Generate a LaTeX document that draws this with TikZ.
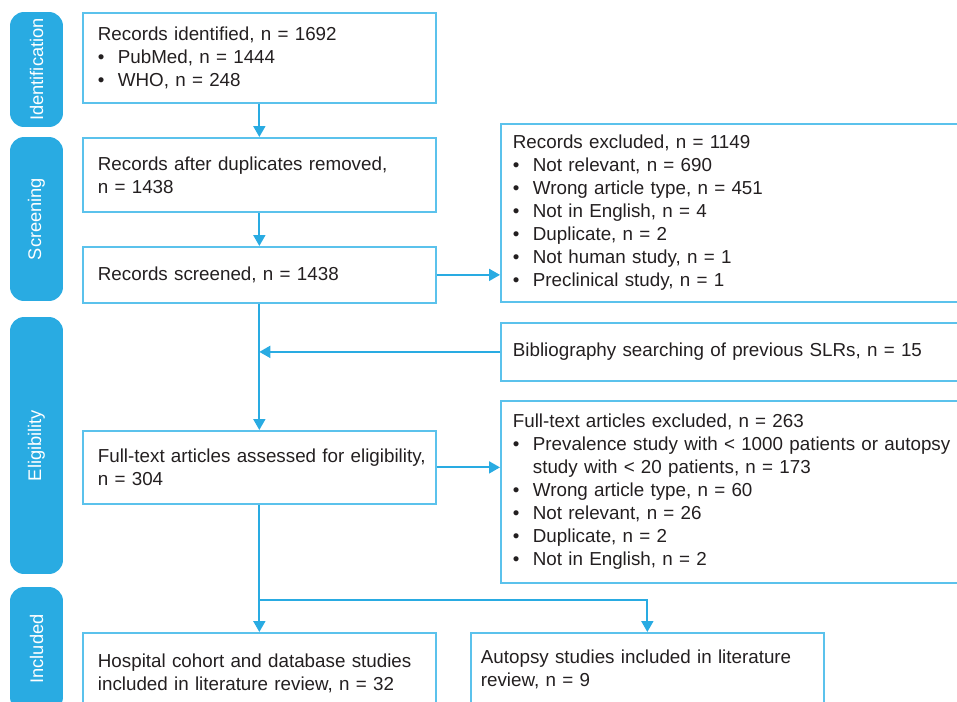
\documentclass[tikz,border=0pt]{standalone}
\usepackage{fontspec}
\setmainfont{Liberation Sans}
\usetikzlibrary{arrows.meta}

\definecolor{prismablue}{HTML}{29ABE2}
\definecolor{boxline}{HTML}{5BC2EC}
\definecolor{txtgray}{HTML}{231F20}

\newcommand{\bitem}{\makebox[0.4cm][l]{\textbullet}}

\begin{document}
\begin{tikzpicture}[x=0.02cm, y=-0.02cm,
    >={Triangle[width=0.24cm, length=0.22cm]},
    flow/.style={draw=prismablue, line width=1.1pt},
    phase/.style={fill=prismablue, rounded corners=0.28cm, rotate=90, minimum height=1.06cm,
        inner sep=0pt, text=white, font=\fontsize{10.4}{13}\selectfont},
    leftbox/.style={draw=boxline, line width=1pt, anchor=north west, minimum width=7.06cm,
        text width=6.46cm, inner xsep=0.3cm, align=left, text=txtgray,
        font=\fontsize{10.7}{13.1}\selectfont},
    rightbox/.style={leftbox, minimum width=9.6cm, text width=9.12cm, inner xsep=0.24cm}]

    % Picture frame (boxes run off the right and bottom edges)
    \path[use as bounding box, clip] (0,0) rectangle (957,701);

    % Phase bars
    \node[phase, minimum width=2.3cm] (phid) at (36.5,69.5) {Identification};
    \node[phase, minimum width=3.28cm] (phscr) at (36.5,219) {Screening};
    \node[phase, minimum width=5.14cm] (phelig) at (36.5,445.5) {Eligibility};
    \node[phase, minimum width=2.48cm] (phincl) at (36.5,649) {Included};

    % Main column
    \node[leftbox, minimum height=1.8cm] (ident) at (82,12)
        {Records identified, n = 1692\\ \bitem PubMed, n = 1444\\ \bitem WHO, n = 248};
    \node[leftbox, minimum height=1.48cm] (dupl) at (82,137)
        {Records after duplicates removed,\\ n = 1438};
    \node[leftbox, minimum height=1.12cm] (screen) at (82,246) {Records screened, n = 1438};
    \node[leftbox, minimum height=1.46cm] (fulltext) at (82,430)
        {\mbox{Full-text articles assessed for eligibility,}\\ n = 304};
    \node[leftbox, minimum height=1.62cm] (hosp) at (82,632)
        {Hospital cohort and database studies\\ included in literature review, n = 32};
    \node[leftbox, minimum height=1.46cm, text width=6.66cm, inner xsep=0.2cm] (autopsy) at (470,632)
        {Autopsy studies included in literature\\ review, n = 9};

    % Side boxes
    \node[rightbox, minimum height=3.56cm] (exclrec) at (500,123)
        {Records excluded, n = 1149\\
         \bitem Not relevant, n = 690\\
         \bitem Wrong article type, n = 451\\
         \bitem Not in English, n = 4\\
         \bitem Duplicate, n = 2\\
         \bitem Not human study, n = 1\\
         \bitem Preclinical study, n = 1};
    \node[rightbox, minimum height=1.16cm] (biblio) at (500,322)
        {Bibliography searching of previous SLRs, n = 15};
    \node[rightbox, minimum height=3.64cm] (exclft) at (500,400)
        {Full-text articles excluded, n = 263\\
         \bitem Prevalence study with < 1000 patients or autopsy\\
         \hspace*{0.4cm}study with < 20 patients, n = 173\\
         \bitem Wrong article type, n = 60\\
         \bitem Not relevant, n = 26\\
         \bitem Duplicate, n = 2\\
         \bitem Not in English, n = 2};

    % Connectors
    \draw[flow, ->] (ident) -- (dupl);
    \draw[flow, ->] (dupl) -- (screen);
    \draw[flow, ->] (screen) -- (screen -| exclrec.west);
    \draw[flow, ->] (screen) -- (fulltext);
    \draw[flow, ->] (biblio) -- (biblio -| screen.south);
    \draw[flow, ->] (fulltext) -- (fulltext -| exclft.west);
    \draw[flow, ->] (fulltext) -- (hosp);
    \coordinate (split) at (259,600);
    \draw[flow, ->] (split) -| (autopsy);
\end{tikzpicture}
\end{document}
